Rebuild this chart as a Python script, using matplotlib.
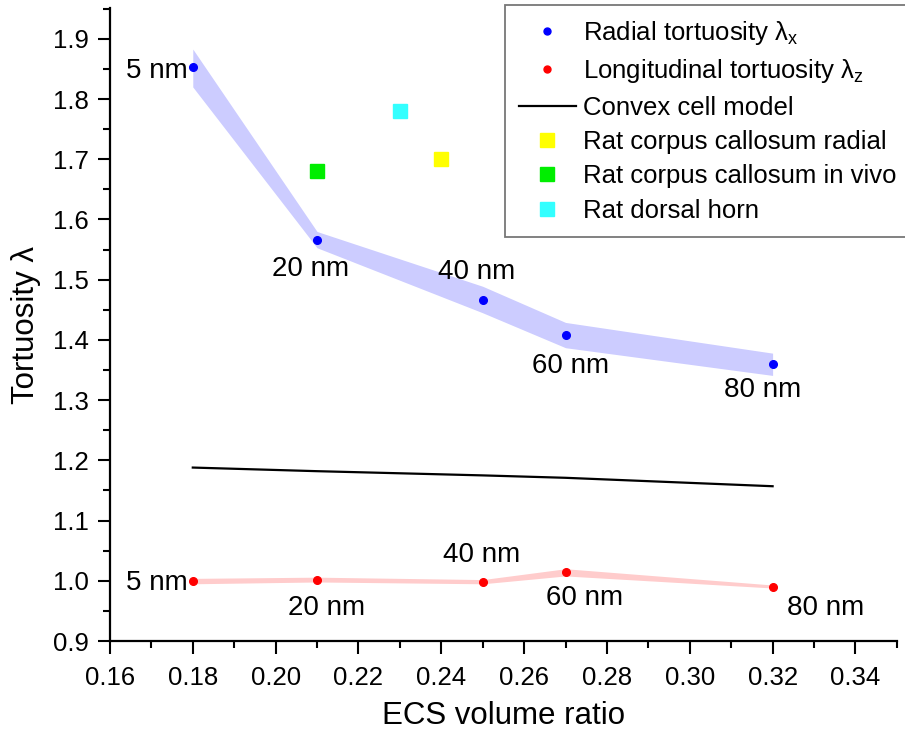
import matplotlib
matplotlib.use("Agg")
import matplotlib.pyplot as plt
from matplotlib.ticker import MultipleLocator, FormatStrFormatter
from matplotlib.lines import Line2D

plt.rcParams["font.family"] = ["Liberation Sans", "DejaVu Sans"]
plt.rcParams["mathtext.fontset"] = "custom"
plt.rcParams["mathtext.rm"] = "Liberation Sans"

# ECS volume ratio for each gap width
ecs = [0.18, 0.21, 0.25, 0.27, 0.32]
gap_labels = ["5 nm", "20 nm", "40 nm", "60 nm", "80 nm"]

radial = [1.853, 1.566, 1.466, 1.408, 1.360]
radial_hi = [1.883, 1.580, 1.489, 1.429, 1.378]
radial_lo = [1.820, 1.553, 1.445, 1.387, 1.341]

longit = [1.000, 1.002, 0.998, 1.015, 0.990]
longit_hi = [1.004, 1.006, 1.002, 1.020, 0.993]
longit_lo = [0.995, 0.998, 0.995, 1.008, 0.988]

convex = [1.188, 1.182, 1.175, 1.171, 1.157]

exp_names = ["Rat corpus callosum radial", "Rat corpus callosum in vivo",
             "Rat dorsal horn"]
exp_x = [0.24, 0.21, 0.23]
exp_y = [1.70, 1.68, 1.78]
exp_colors = ["#ffff00", "#00ee00", "#33ffff"]

# where the nm annotations sit (data units)
rad_lab_pos = [(0.1787, 1.847, "right"), (0.2085, 1.517, "center"),
               (0.2485, 1.512, "center"), (0.2713, 1.357, "center"),
               (0.3175, 1.317, "center")]
lon_lab_pos = [(0.1787, 0.996, "right"), (0.2122, 0.955, "center"),
               (0.2497, 1.043, "center"), (0.2745, 0.971, "center"),
               (0.3327, 0.955, "center")]

fig = plt.figure(figsize=(9.05, 7.34), dpi=100)
ax = fig.add_axes([0.1215, 0.1267, 0.8695, 0.8623])

ax.fill_between(ecs, radial_lo, radial_hi, color="#ccccff", lw=0, zorder=1)
ax.fill_between(ecs, longit_lo, longit_hi, color="#ffcccc", lw=0, zorder=1)
ax.plot(ecs, radial, "o", color="#0000ff", ms=5.5, zorder=3)
ax.plot(ecs, longit, "o", color="#ff0000", ms=5.5, zorder=3)
ax.plot(ecs, convex, color="black", lw=1.6, zorder=2)
for x, y, c in zip(exp_x, exp_y, exp_colors):
    ax.plot([x], [y], "s", color=c, ms=9.5, zorder=3)

for (x, y, ha), lab in zip(rad_lab_pos, gap_labels):
    ax.text(x, y, lab, fontsize=20, ha=ha, va="center")
for (x, y, ha), lab in zip(lon_lab_pos, gap_labels):
    ax.text(x, y, lab, fontsize=20, ha=ha, va="center")

ax.set_xlim(0.16, 0.35)
ax.set_ylim(0.9, 1.951)
ax.xaxis.set_major_locator(MultipleLocator(0.02))
ax.xaxis.set_minor_locator(MultipleLocator(0.01))
ax.yaxis.set_major_locator(MultipleLocator(0.1))
ax.yaxis.set_minor_locator(MultipleLocator(0.05))
ax.xaxis.set_major_formatter(FormatStrFormatter("%.2f"))
ax.yaxis.set_major_formatter(FormatStrFormatter("%.1f"))
ax.tick_params(which="major", direction="out", length=9, width=1.5,
               labelsize=18.5)
ax.tick_params(axis="x", which="major", pad=9)
ax.tick_params(axis="y", which="major", pad=6)
ax.tick_params(which="minor", direction="out", length=5, width=1.5)
for s in ("top", "right"):
    ax.spines[s].set_visible(False)
for s in ("left", "bottom"):
    ax.spines[s].set_linewidth(1.6)

ax.set_xlabel("ECS volume ratio", fontsize=22.5, labelpad=8)
ax.set_ylabel("Tortuosity λ", fontsize=22.5, labelpad=9)

handles = [
    Line2D([], [], ls="", marker="o", color="#0000ff", ms=5),
    Line2D([], [], ls="", marker="o", color="#ff0000", ms=5),
    Line2D([], [], color="black", lw=1.6),
] + [Line2D([], [], ls="", marker="s", color=c, ms=9.5) for c in exp_colors]
labels = ["Radial tortuosity λ$_\\mathregular{x}$",
          "Longitudinal tortuosity λ$_\\mathregular{z}$",
          "Convex cell model"] + exp_names
leg = fig.legend(handles, labels, loc="upper left",
                 bbox_to_anchor=(505 / 905, 1 - 5 / 734), fontsize=18.5,
                 frameon=True, fancybox=False, edgecolor="#555555",
                 handlelength=2.2, handletextpad=0.3, labelspacing=0.4,
                 borderaxespad=0, borderpad=0.55)
leg.get_frame().set_linewidth(1.3)

fig.savefig("out.png", dpi=100)
